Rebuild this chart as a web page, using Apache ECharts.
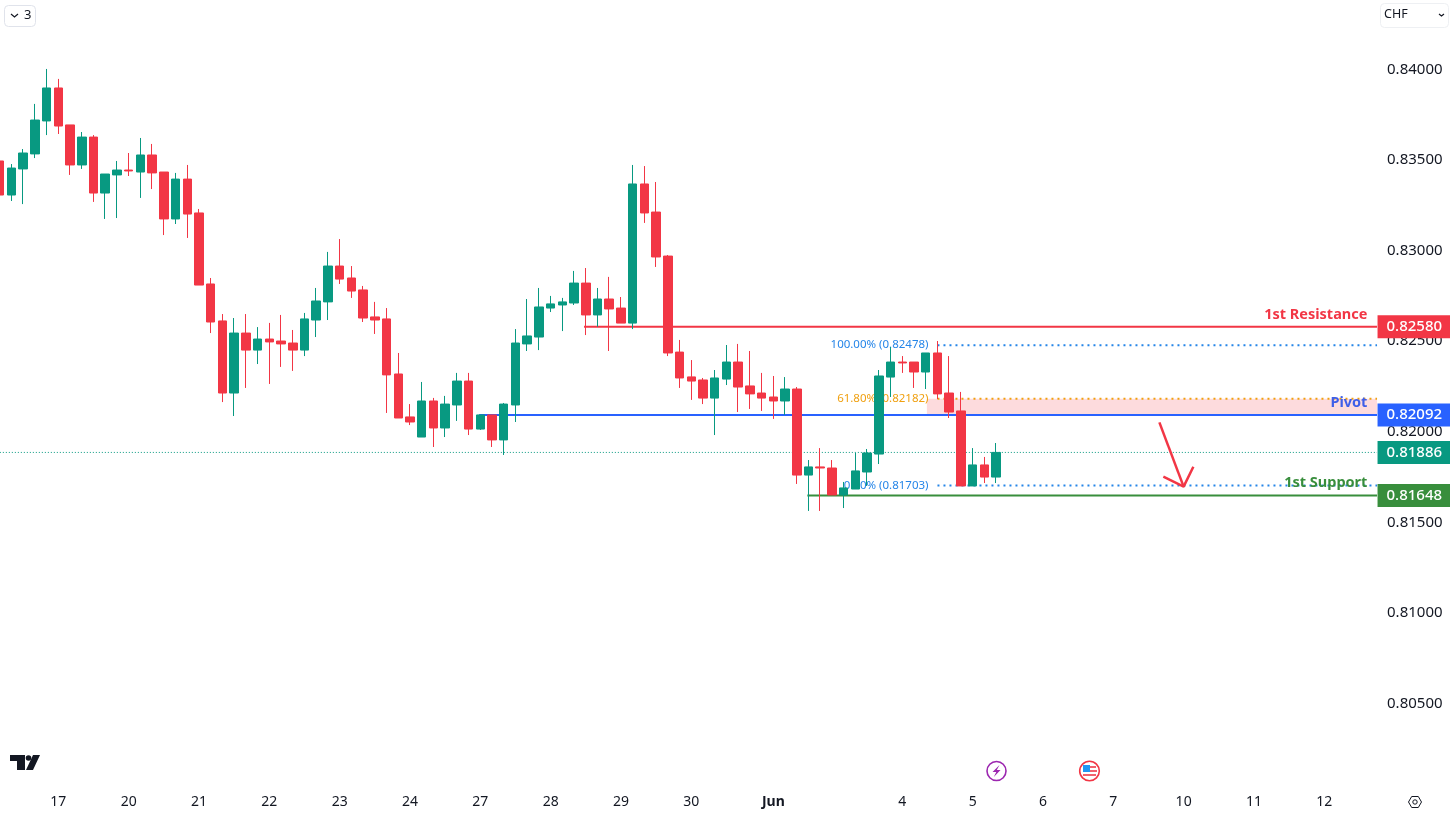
<!DOCTYPE html>
<html>
<head>
<meta charset="utf-8">
<title>CHF</title>
<script src="https://cdn.jsdelivr.net/npm/echarts@6/dist/echarts.min.js"></script>
<style>
	html, body { margin: 0; padding: 0; background: #fff; }
	#main { width: 1450px; height: 820px; }
</style>
</head>
<body>
<div id="main"></div>
<script>
// 4H bars
var opens = [0.83495, 0.83307, 0.83451, 0.83534, 0.83716, 0.83898, 0.83694, 0.83473, 0.83627, 0.83318,
	0.83418, 0.83445, 0.83434, 0.83528, 0.83434, 0.83175, 0.83395, 0.83208, 0.82816, 0.82612,
	0.82214, 0.82545, 0.82451, 0.82512, 0.82501, 0.82490, 0.82451, 0.82617, 0.82717, 0.82915,
	0.82849, 0.82783, 0.82634, 0.82623, 0.82319, 0.82082, 0.81971, 0.82170, 0.82021, 0.82148,
	0.82280, 0.82015, 0.82093, 0.81955, 0.82148, 0.82485, 0.82523, 0.82683, 0.82700, 0.82711,
	0.82821, 0.82645, 0.82733, 0.82683, 0.82600, 0.83368, 0.83213, 0.82970, 0.82440, 0.82303,
	0.82286, 0.82186, 0.82291, 0.82385, 0.82253, 0.82214, 0.82192, 0.82170, 0.82236, 0.81761,
	0.81806, 0.81800, 0.81651, 0.81684, 0.81778, 0.81877, 0.82302, 0.82385, 0.82385, 0.82330,
	0.82435, 0.82214, 0.82115, 0.81701, 0.81817, 0.81750];
var closes = [0.83307, 0.83456, 0.83539, 0.83721, 0.83898, 0.83688, 0.83473, 0.83627, 0.83318, 0.83423,
	0.83445, 0.83440, 0.83528, 0.83429, 0.83175, 0.83395, 0.83202, 0.82810, 0.82606, 0.82214,
	0.82545, 0.82451, 0.82512, 0.82496, 0.82485, 0.82451, 0.82623, 0.82722, 0.82915, 0.82843,
	0.82777, 0.82628, 0.82617, 0.82314, 0.82076, 0.82054, 0.82170, 0.82021, 0.82153, 0.82280,
	0.82015, 0.82093, 0.81955, 0.82153, 0.82490, 0.82529, 0.82689, 0.82706, 0.82717, 0.82821,
	0.82645, 0.82733, 0.82678, 0.82600, 0.83368, 0.83208, 0.82965, 0.82435, 0.82297, 0.82280,
	0.82186, 0.82297, 0.82385, 0.82247, 0.82209, 0.82186, 0.82170, 0.82236, 0.81761, 0.81806,
	0.81800, 0.81651, 0.81690, 0.81784, 0.81883, 0.82308, 0.82385, 0.82380, 0.82330, 0.82435,
	0.82209, 0.82109, 0.81701, 0.81817, 0.81750, 0.81886];
var lows = [0.83290, 0.83274, 0.83257, 0.83511, 0.83638, 0.83644, 0.83418, 0.83451, 0.83269, 0.83175,
	0.83180, 0.83412, 0.83291, 0.83340, 0.83086, 0.83147, 0.83070, 0.82810, 0.82545, 0.82164,
	0.82087, 0.82242, 0.82374, 0.82264, 0.82358, 0.82336, 0.82418, 0.82523, 0.82617, 0.82816,
	0.82739, 0.82606, 0.82540, 0.82104, 0.82076, 0.82037, 0.81971, 0.81916, 0.81971, 0.82060,
	0.81982, 0.82010, 0.81916, 0.81872, 0.82054, 0.82446, 0.82451, 0.82661, 0.82556, 0.82700,
	0.82534, 0.82580, 0.82446, 0.82600, 0.82567, 0.83153, 0.82910, 0.82418, 0.82242, 0.82176,
	0.82153, 0.81982, 0.82258, 0.82109, 0.82126, 0.82115, 0.82071, 0.82093, 0.81712, 0.81563,
	0.81563, 0.81651, 0.81579, 0.81684, 0.81701, 0.81822, 0.82192, 0.82325, 0.82242, 0.82236,
	0.82181, 0.82076, 0.81701, 0.81701, 0.81717, 0.81717];
var highs = [0.83510, 0.83478, 0.83561, 0.83810, 0.84003, 0.83948, 0.83694, 0.83655, 0.83638, 0.83423,
	0.83495, 0.83539, 0.83622, 0.83589, 0.83434, 0.83429, 0.83473, 0.83230, 0.82849, 0.82650,
	0.82628, 0.82650, 0.82578, 0.82601, 0.82645, 0.82562, 0.82656, 0.82794, 0.82993, 0.83064,
	0.82915, 0.82805, 0.82717, 0.82683, 0.82435, 0.82153, 0.82275, 0.82187, 0.82198, 0.82325,
	0.82325, 0.82093, 0.82093, 0.82159, 0.82567, 0.82733, 0.82794, 0.82750, 0.82739, 0.82888,
	0.82904, 0.82794, 0.82855, 0.82744, 0.83473, 0.83467, 0.83379, 0.82976, 0.82507, 0.82396,
	0.82297, 0.82341, 0.82479, 0.82485, 0.82446, 0.82325, 0.82308, 0.82302, 0.82247, 0.81844,
	0.81910, 0.81844, 0.81723, 0.81883, 0.81905, 0.82341, 0.82468, 0.82418, 0.82385, 0.82435,
	0.82501, 0.82418, 0.82220, 0.81910, 0.81861, 0.81938];

// empty bars after the last candle, the time scale runs on
var barCount = 118;
var tickIndex = [5, 11, 17, 23, 29, 35, 41, 47, 53, 59, 66, 77, 83, 89, 95, 101, 107, 113];
var tickText = ['17', '20', '21', '22', '23', '24', '27', '28', '29', '30', 'Jun', '4', '5', '6', '7', '10', '11', '12'];

// price levels
var resistance = 0.82580;
var pivot = 0.82092;
var support = 0.81648;
var lastPrice = 0.81886;
var fibHigh = 0.82478;
var fibMid = 0.82182;
var fibLow = 0.81703;

// arrow drawn by hand on the chart
var arrowShaft = [[98.93, 0.82052], [101, 0.81697]];
var arrowHead = [[99.27, 0.81752], [101, 0.81697], [101.83, 0.81807]];

var candles = [];
for (var i = 0; i < opens.length; i++) {
	candles.push([opens[i], closes[i], lows[i], highs[i]]);
}
var categories = [];
for (var i = 0; i < barCount; i++) {
	categories.push(String(i));
}

var UP = '#089981';
var DOWN = '#f23645';
var BLUE = '#2962ff';
var GREEN = '#388e3c';
var FIB_BLUE = '#2585e8';
var FIB_ORANGE = '#f0a010';
var FONT = '"Noto Sans", sans-serif';
var END = barCount - 0.5;

function levelLine(start, price, color, width, type, z) {
	return {
		type: 'line',
		xAxisIndex: 1,
		data: [[start, price], [END, price]],
		symbol: 'none',
		silent: true,
		z: z,
		lineStyle: { color: color, width: width, type: type }
	};
}

function textItem(x, price, text, color, offsetY) {
	return {
		value: [x, price],
		label: { formatter: text, color: color, offset: [0, offsetY] }
	};
}

function priceTag(price, color) {
	return {
		value: [END, price],
		label: {
			formatter: price.toFixed(5),
			backgroundColor: color
		}
	};
}

var main = echarts.init(document.getElementById('main'));

var option = {
	animation: false,
	backgroundColor: '#ffffff',
	textStyle: { fontFamily: FONT },
	grid: { left: -6.16, top: -21.07, width: 1383.2, height: 815.13, outerBoundsMode: 'none' },
	xAxis: [{
		type: 'category',
		data: categories,
		boundaryGap: true,
		axisLine: { show: false },
		axisTick: { show: false },
		splitLine: { show: false },
		axisLabel: {
			interval: 0,
			margin: 1,
			fontFamily: FONT,
			fontSize: 14,
			color: '#131722',
			formatter: function (v, idx) {
				var k = tickIndex.indexOf(idx);
				if (k < 0) return '';
				return tickText[k] == 'Jun' ? '{b|Jun}' : tickText[k];
			},
			rich: { b: { fontWeight: 'bold', fontFamily: FONT, fontSize: 14, color: '#131722' } }
		}
	}, {
		// same width as the category bands, for the drawings
		type: 'value',
		show: false,
		min: -0.5,
		max: END,
		splitLine: { show: false }
	}],
	yAxis: {
		type: 'value',
		position: 'right',
		min: 0.80,
		max: 0.845,
		interval: 0.005,
		axisLine: { show: false },
		axisTick: { show: false },
		splitLine: { show: false },
		axisLabel: {
			showMinLabel: false,
			showMaxLabel: false,
			margin: 10,
			padding: [2, 0, 0, 0],
			fontFamily: FONT,
			fontSize: 15,
			color: '#131722',
			formatter: function (v) { return v.toFixed(5); }
		}
	},
	series: [
		levelLine(-0.5, lastPrice, UP, 1, [1, 2], 1),
		levelLine(80, fibHigh, FIB_BLUE, 2, [2, 4], 1),
		levelLine(80, fibMid, FIB_ORANGE, 2, [2, 4], 1),
		levelLine(80, fibLow, FIB_BLUE, 2, [2, 4], 1),
		levelLine(49.85, resistance, DOWN, 2, 'solid', 2),
		levelLine(40.9, pivot, BLUE, 2, 'solid', 2),
		levelLine(68.9, support, GREEN, 2, 'solid', 2),
		{
			// level names and fib texts stay under the candles
			type: 'scatter',
			xAxisIndex: 1,
			symbolSize: 1,
			silent: true,
			z: 2,
			itemStyle: { color: 'transparent', opacity: 1 },
			label: { show: true, position: 'left', distance: 0, fontFamily: FONT, fontSize: 14.5, fontWeight: 'bold' },
			data: [
				textItem(116.72, resistance, '1st Resistance', DOWN, -12),
				textItem(116.72, pivot, 'Pivot', '#3f5fe8', -12),
				textItem(116.72, support, '1st Support', GREEN, -13)
			]
		},
		{
			type: 'scatter',
			xAxisIndex: 1,
			symbolSize: 1,
			silent: true,
			z: 2,
			itemStyle: { color: 'transparent', opacity: 1 },
			label: { show: true, position: 'left', distance: 0, fontFamily: FONT, fontSize: 11.5 },
			data: [
				textItem(79.28, fibHigh, '100.00% (' + fibHigh.toFixed(5) + ')', FIB_BLUE, 0),
				textItem(79.28, fibMid, '61.80% (' + fibMid.toFixed(5) + ')', FIB_ORANGE, 0),
				textItem(79.28, fibLow, '0.00% (' + fibLow.toFixed(5) + ')', FIB_BLUE, 0)
			]
		},
		{
			// zone between the pivot and the 61.8 level
			type: 'line',
			xAxisIndex: 1,
			data: [],
			silent: true,
			z: 3,
			markArea: {
				silent: true,
				itemStyle: { color: 'rgba(242, 54, 69, 0.18)' },
				data: [[{ coord: [79.1, fibMid] }, { coord: [END, pivot] }]]
			}
		},
		{
			type: 'candlestick',
			data: candles,
			barWidth: 9,
			silent: true,
			z: 5,
			itemStyle: { color: UP, color0: DOWN, borderColor: UP, borderColor0: DOWN, borderWidth: 1 }
		},
		{
			type: 'line',
			xAxisIndex: 1,
			data: arrowShaft,
			symbol: 'none',
			silent: true,
			z: 6,
			lineStyle: { color: DOWN, width: 2.5 }
		},
		{
			type: 'line',
			xAxisIndex: 1,
			data: arrowHead,
			symbol: 'none',
			silent: true,
			z: 6,
			lineStyle: { color: DOWN, width: 2.5 }
		},
		{
			type: 'scatter',
			xAxisIndex: 1,
			symbolSize: 1,
			silent: true,
			clip: false,
			z: 10,
			itemStyle: { color: 'transparent', opacity: 1 },
			label: {
				show: true,
				position: 'right',
				distance: 0,
				color: '#ffffff',
				fontFamily: FONT,
				fontSize: 15,
				fontWeight: 500,
				width: 65,
				height: 23,
				lineHeight: 23,
				padding: [0, 0, 0, 9]
			},
			data: [
				priceTag(resistance, DOWN),
				priceTag(pivot, BLUE),
				priceTag(lastPrice, UP),
				priceTag(support, GREEN)
			]
		}
	],
	graphic: [
		// interval button
		{ type: 'rect', shape: { x: 4.5, y: 5.5, width: 31, height: 21, r: 4 }, style: { fill: '#fff', stroke: '#e0e3eb', lineWidth: 1 } },
		{ type: 'polyline', shape: { points: [[11, 14], [14.5, 17], [18, 14]] }, style: { fill: null, stroke: '#131722', lineWidth: 1.2 } },
		{ type: 'text', style: { x: 24, y: 9, text: '3', fill: '#131722', font: '13px "Noto Sans"' } },
		// currency box
		{ type: 'rect', shape: { x: 1380.5, y: 3.5, width: 68, height: 24, r: 4 }, style: { fill: '#fff', stroke: '#eef0f3', lineWidth: 1 } },
		{ type: 'text', style: { x: 1384, y: 8, text: 'CHF', fill: '#131722', font: '12.5px "Noto Sans"' } },
		{ type: 'polyline', shape: { points: [[1439, 14], [1441.5, 16], [1444, 14]] }, style: { fill: null, stroke: '#131722', lineWidth: 1.2 } },
		// logo
		{ type: 'polygon', shape: { points: [[10, 755], [25, 755], [25, 770], [17, 770], [17, 761], [10, 761]] }, style: { fill: '#131722' } },
		{ type: 'circle', shape: { cx: 28.5, cy: 758, r: 2.8 }, style: { fill: '#131722' } },
		{ type: 'polygon', shape: { points: [[33, 755], [40, 755], [33, 770], [26, 770]] }, style: { fill: '#131722' } },
		// event icons
		{ type: 'circle', shape: { cx: 996.5, cy: 771, r: 9.5 }, style: { fill: '#fff', stroke: '#9c27b0', lineWidth: 1.6 } },
		{ type: 'polygon', shape: { points: [[999.5, 765], [992.5, 772], [996.3, 772], [993.8, 777], [1000.5, 770], [996.8, 770]] }, style: { fill: '#9c27b0' } },
		{ type: 'circle', shape: { cx: 1089.5, cy: 771, r: 9.8 }, style: { fill: '#fff', stroke: '#f23645', lineWidth: 1.6 } },
		{ type: 'line', shape: { x1: 1090, y1: 767, x2: 1096, y2: 767 }, style: { stroke: '#f2606c', lineWidth: 2 } },
		{ type: 'line', shape: { x1: 1090, y1: 771, x2: 1097, y2: 771 }, style: { stroke: '#f2606c', lineWidth: 2 } },
		{ type: 'line', shape: { x1: 1083, y1: 775, x2: 1096, y2: 775 }, style: { stroke: '#f2606c', lineWidth: 2 } },
		{ type: 'rect', shape: { x: 1083, y: 765, width: 7, height: 7 }, style: { fill: '#2196f3' } },
		// settings
		{ type: 'polygon', shape: { points: [[1408.5, 802], [1411.7, 796.5], [1418.3, 796.5], [1421.5, 802], [1418.3, 807.5], [1411.7, 807.5]] }, style: { fill: '#fff', stroke: '#131722', lineWidth: 1 } },
		{ type: 'circle', shape: { cx: 1415, cy: 802, r: 2.2 }, style: { fill: '#fff', stroke: '#131722', lineWidth: 1 } }
	]
};
main.setOption(option);
</script>
</body>
</html>
